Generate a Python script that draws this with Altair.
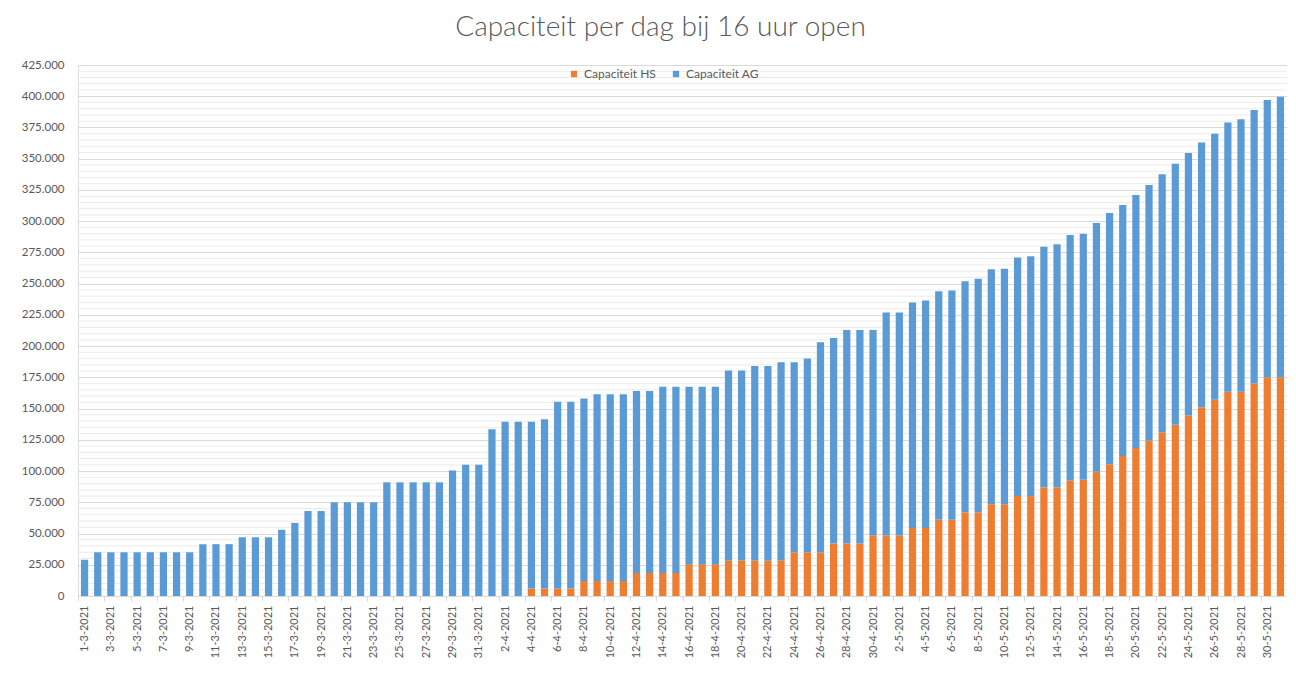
import altair as alt
import pandas as pd

months = [(3, 31), (4, 30), (5, 31)]
dates = [f"{d}-{m}-2021" for m, n in months for d in range(1, n + 1)]

# totals per day (thousands)
total_k = [
    29, 35, 35, 35, 35, 35, 35, 35, 35, 41.5, 41.5, 41.5, 47, 47, 47, 53, 58.5,
    68, 68, 75, 75, 75, 75, 91, 91, 91, 91, 91, 100.5, 105, 105,
    133.5, 139.5, 139.5, 139.5, 141.5, 155.5, 155.5, 158, 161.5, 161.5, 161.5,
    164, 164, 167.5, 167.5, 167.5, 167.5, 167.5, 180.5, 180.5, 184, 184, 187,
    187, 190, 203, 206.5, 213, 213, 213,
    227, 227, 235, 236.5, 244, 244.5, 252, 254, 261.5, 262, 271, 272, 279.5,
    281.5, 289, 290, 298.5, 306.5, 313, 321, 329, 337.5, 346, 354.5, 363, 370,
    379, 381.5, 389, 397, 399.5,
]
# Capaciteit HS per day (thousands)
hs_k = [0] * 31 + [
    0, 0, 0, 6, 6, 6, 6, 12, 12, 12, 12, 18.5, 18.5, 18.5, 18.5, 25.5, 25.5,
    25.5, 28.5, 28.5, 28.5, 28.5, 28.5, 35, 35, 35, 42, 42, 42, 48.5,
    48.5, 48.5, 54.5, 54.5, 61, 61, 67, 67, 73.5, 73.5, 80, 80, 87, 87, 92.5,
    93, 99.5, 105.5, 112, 118.5, 124.5, 131, 137, 144.5, 151, 157, 163.5,
    163.5, 170, 175, 175,
]

series_names = ["Capaciteit HS", "Capaciteit AG"]
colors = ["#ED7D31", "#5B9BD5"]
y_ticks = list(range(0, 425001, 25000))
minor_ticks = [v for v in range(5000, 425000, 5000) if v % 25000]

rows = []
for d, t, h in zip(dates, total_k, hs_k):
    rows.append({"datum": d, "serie": series_names[0], "ord": 0, "waarde": h * 1000})
    rows.append({"datum": d, "serie": series_names[1], "ord": 1, "waarde": (t - h) * 1000})
df = pd.DataFrame(rows)
minor_df = pd.DataFrame({"v": minor_ticks})

FONT = "Lato"
GREY = "#595959"

step = 1209 / 92

y_axis = alt.Axis(
    values=y_ticks,
    labelExpr="replace(format(datum.value, ','), ',', '.')",
    title=None,
    grid=True,
    gridColor="#d9d9d9",
    domain=False,
    ticks=False,
    labelFont=FONT,
    labelFontSize=11.5,
    labelColor=GREY,
    labelPadding=14,
)
y_scale = alt.Scale(domain=[0, 425000], nice=False)

minor = alt.Chart(minor_df).mark_rule(color="#ebebeb", strokeWidth=1).encode(
    y=alt.Y("v:Q", scale=y_scale, axis=y_axis)
)

bars = alt.Chart(df).mark_bar().encode(
    x=alt.X(
        "datum:N",
        sort=dates,
        scale=alt.Scale(paddingInner=0.45, paddingOuter=0.225),
        axis=alt.Axis(
            values=dates[::2],
            labelAngle=-90,
            title=None,
            grid=False,
            domainColor="#d9d9d9",
            tickColor="#d9d9d9",
            tickSize=5,
            tickOffset=-step / 2,
            labelOffset=step / 2,
            labelFont=FONT,
            labelFontSize=11,
            labelColor=GREY,
            labelPadding=4,
        ),
    ),
    y=alt.Y("waarde:Q", stack="zero", scale=y_scale, axis=y_axis),
    color=alt.Color(
        "serie:N",
        scale=alt.Scale(domain=series_names, range=colors),
        legend=alt.Legend(
            title=None,
            orient="none",
            direction="horizontal",
            legendX=490,
            legendY=3,
            symbolType="square",
            symbolSize=40,
            symbolStrokeWidth=0,
            labelFont=FONT,
            labelFontSize=12,
            labelColor=GREY,
            columnPadding=14,
        ),
    ),
    order=alt.Order("ord:Q"),
)

chart = alt.layer(minor, bars).properties(
    width=1209,
    height=531,
    padding={"left": 70, "top": 57, "right": 0, "bottom": 95},
    autosize=alt.AutoSizeParams(type="none"),
    title=alt.TitleParams(
        text="Capaciteit per dag bij 16 uur open",
        anchor="middle",
        dx=-22,
        offset=17,
        font=FONT,
        fontSize=28,
        fontWeight=300,
        color=GREY,
    ),
).configure_view(stroke=None).configure(background="white")

chart.save("out.html", embed_options={"renderer": "svg", "actions": False})
